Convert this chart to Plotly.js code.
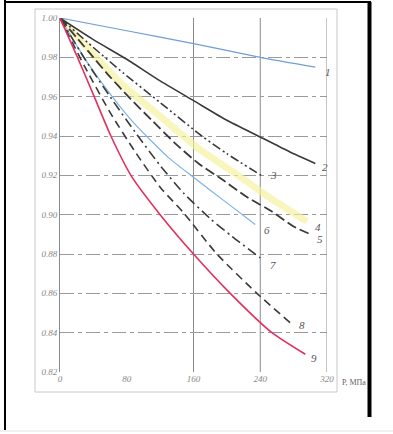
<!DOCTYPE html>
<html>
<head>
<meta charset="utf-8">
<script src="https://cdn.plot.ly/plotly-3.0.1.min.js"></script>
<style>
html,body{margin:0;padding:0;background:#fff;}
#chart{width:393px;height:434px;}
</style>
</head>
<body>
<div id="chart"></div>
<script>
// Pressure values (MPa) and ratio values for each numbered curve
const p1 = [0, 80, 160, 240, 306];
const r1 = [1.0, 0.9935, 0.987, 0.980, 0.975];

const p2 = [0, 40, 80, 120, 160, 200, 240, 275, 306];
const r2 = [1.0, 0.989, 0.979, 0.968, 0.958, 0.948, 0.9395, 0.932, 0.926];

const p3 = [0, 40, 76, 120, 170, 200, 241];
const r3 = [1.0, 0.985, 0.972, 0.957, 0.940, 0.931, 0.920];

const p4 = [0, 35, 70, 120, 168, 210, 250, 296];
const r4 = [1.0, 0.984, 0.968, 0.950, 0.933, 0.921, 0.909, 0.8965];

const p5 = [0, 34, 58, 82, 110, 140, 166, 194, 224, 254, 280, 300];
const r5 = [1.0, 0.983, 0.971, 0.960, 0.948, 0.9355, 0.926, 0.918, 0.909, 0.9016, 0.894, 0.890];

const p6 = [0, 35, 70, 92, 130, 160, 200, 234];
const r6 = [1.0, 0.976, 0.956, 0.945, 0.929, 0.919, 0.906, 0.895];

const p7 = [0, 30, 60, 90, 120, 148, 180, 206, 240];
const r7 = [1.0, 0.979, 0.960, 0.942, 0.925, 0.911, 0.898, 0.889, 0.878];

const p8 = [0, 30, 60, 90, 120, 148, 188, 236, 276];
const r8 = [1.0, 0.975, 0.952, 0.932, 0.914, 0.901, 0.880, 0.860, 0.845];

const p9 = [0, 21, 41, 61, 85, 120, 160, 204, 254, 294];
const r9 = [1.0, 0.980, 0.960, 0.940, 0.920, 0.900, 0.880, 0.860, 0.840, 0.829];

const curveLabels = ["1", "2", "3", "4", "5", "6", "7", "8", "9"];
const labelX = [315, 312, 249, 303, 306, 242, 249, 284, 299];
const labelY = [0.9727, 0.9244, 0.9203, 0.8938, 0.8877, 0.8923, 0.8745, 0.844, 0.8272];

const yTicks = [1.00, 0.98, 0.96, 0.94, 0.92, 0.90, 0.88, 0.86, 0.84, 0.82];
const yTickText = ["1.00", "0.98", "0.96", "0.94", "0.92", "0.90", "0.88", "0.86", "0.84", "0.82"];
const xTicks = [0, 80, 160, 240, 320];
const xTickText = ["0", "80", "160", "240", "320"];
const xGridLines = [160, 240, 320];

const dark = '#3a3a3a';
function tr(x, y, color, width, dash, opacity) {
  return {x: x, y: y, type: 'scatter', mode: 'lines',
    line: {color: color, width: width, dash: dash, shape: 'spline', smoothing: 0.6},
    opacity: opacity || 1, hoverinfo: 'skip', showlegend: false};
}
const data = [
  tr(p4, r4, '#f6f19a', 7, 'solid', 0.65),
  tr(p1, r1, '#6f9fd6', 1.2, 'solid'),
  tr(p2, r2, dark, 1.6, 'solid'),
  tr(p3, r3, dark, 1.6, '9px,3px,2px,3px,2px,3px'),
  tr(p5, r5, dark, 1.8, '10px,4px'),
  tr(p6, r6, '#7fb4e2', 1.2, 'solid'),
  tr(p7, r7, dark, 1.6, '10px,4px,2px,4px'),
  tr(p8, r8, dark, 1.6, '8px,5px'),
  tr(p9, r9, '#e2305c', 1.6, 'solid')
];

// pixel -> paper helpers (plot area: left 60, right 327, top 18, bottom 372)
const L = 60, R = 66, T = 18, B = 62, W = 393, H = 434;
const PW = W - L - R, PH = H - T - B;
const px = v => (v - L) / PW;
const py = v => (H - B - v) / PH;

const shapes = [];
xGridLines.forEach(v => shapes.push({type: 'line', xref: 'x', yref: 'paper', x0: v, x1: v, y0: 0, y1: 1,
  line: {color: '#8a8a8a', width: 1}, layer: 'below'}));
// scanned page frame
shapes.push({type: 'rect', xref: 'paper', yref: 'paper', x0: px(35), x1: px(337), y0: py(392), y1: py(9),
  line: {color: '#c8c8c8', width: 1}, layer: 'below'});
// outer frame
shapes.push({type: 'line', xref: 'paper', yref: 'paper', x0: px(5), x1: px(5), y0: py(0), y1: py(430), line: {color: '#000', width: 2}});
shapes.push({type: 'line', xref: 'paper', yref: 'paper', x0: px(4), x1: px(371), y0: py(2), y1: py(2), line: {color: '#000', width: 2}});
shapes.push({type: 'line', xref: 'paper', yref: 'paper', x0: px(369.5), x1: px(369.5), y0: py(2), y1: py(417), line: {color: '#000', width: 4}});
shapes.push({type: 'line', xref: 'paper', yref: 'paper', x0: px(0), x1: px(393), y0: py(431), y1: py(431), line: {color: '#e2e2e2', width: 1}});

const annotations = curveLabels.map((t, i) => ({
  x: labelX[i], y: labelY[i], xref: 'x', yref: 'y', text: t, showarrow: false,
  xanchor: 'left', yanchor: 'middle',
  font: {family: 'Liberation Serif', size: 11, color: '#555', style: 'italic'}
}));
annotations.push({x: px(340), y: py(382), xref: 'paper', yref: 'paper', text: 'Р, МПа', showarrow: false,
  xanchor: 'left', yanchor: 'middle', font: {family: 'Liberation Serif', size: 8, color: '#666'}});

const layout = {
  width: W, height: H,
  margin: {l: L, r: R, t: T, b: B, pad: 0},
  paper_bgcolor: '#fff', plot_bgcolor: '#fff',
  showlegend: false,
  xaxis: {range: [0, 320], tickvals: xTicks, ticktext: xTickText, showgrid: false, zeroline: false,
    showline: false, ticks: '', ticklen: 0,
    tickfont: {family: 'Liberation Serif', size: 9, color: '#888', style: 'italic'}},
  yaxis: {range: [0.82, 1.0], tickvals: yTicks, ticktext: yTickText, showgrid: true,
    gridcolor: '#9a9a9a', gridwidth: 1, griddash: '14px,4px,4px,4px', zeroline: false,
    showline: true, linecolor: '#8a8a8a', linewidth: 1, ticks: '', ticklen: 0,
    tickfont: {family: 'Liberation Serif', size: 9, color: '#888', style: 'italic'}},
  shapes: shapes,
  annotations: annotations
};
Plotly.newPlot('chart', data, layout, {staticPlot: true, displayModeBar: false});
</script>
</body>
</html>
